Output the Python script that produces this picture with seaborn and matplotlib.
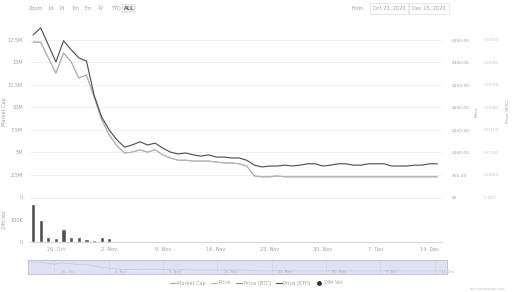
import numpy as np
import pandas as pd
import matplotlib
matplotlib.use("Agg")
import matplotlib.pyplot as plt
import seaborn as sns
from matplotlib.lines import Line2D

# ---------------- data ----------------
day_index = list(range(54))
price_usd = [345, 345, 310, 276, 321, 301, 265, 272, 223, 172, 138, 114, 98, 100, 105, 100,
             105, 94, 87, 82, 82, 80, 80, 80, 78, 76, 76, 74, 69, 47, 45, 45, 47, 45, 45, 45,
             45, 45, 45, 45, 45, 45, 45, 45, 45, 45, 45, 45, 45, 45, 45, 45, 45, 45]
market_cap_m = [p / 20.0 for p in price_usd]
price_btc = [0.0361, 0.0377, 0.0339, 0.0301, 0.0348, 0.0328, 0.0310, 0.0303, 0.0227, 0.0178,
             0.0149, 0.0127, 0.0111, 0.0116, 0.0123, 0.0116, 0.0120, 0.0109, 0.0100, 0.0096,
             0.0098, 0.0094, 0.0091, 0.0094, 0.0089, 0.0089, 0.0087, 0.0087, 0.0082, 0.0071,
             0.0067, 0.0069, 0.0069, 0.0071, 0.0069, 0.0071, 0.0074, 0.0074, 0.0069, 0.0071,
             0.0074, 0.0074, 0.0071, 0.0071, 0.0074, 0.0074, 0.0074, 0.0069, 0.0069, 0.0069,
             0.0071, 0.0071, 0.0074, 0.0074]
volume_k = [173, 100, 23, 20, 59, 22, 22, 12, 10, 22, 18] + [0] * 43

tick_days = [3, 10, 17, 24, 31, 38, 45, 52]
tick_labels = ["26. Oct", "2. Nov", "9. Nov", "16. Nov", "23. Nov", "30. Nov", "7. Dec", "14. Dec"]
mcap_ticks = [0, 2.5, 5, 7.5, 10, 12.5, 15, 17.5]
mcap_labels = ["0", "2.5M", "5M", "7.5M", "10M", "12.5M", "15M", "17.5M"]
price_ticks = [0, 50, 100, 150, 200, 250, 300, 350]
price_labels = ["$0", "$50.00", "$100.00", "$150.00", "$200.00", "$250.00", "$300.00", "$350.00"]
btc_ticks = [0, 0.005, 0.01, 0.015, 0.02, 0.025, 0.03, 0.035]
btc_labels = ["0 BTC", "0.0050", "0.0100", "0.0150", "0.0200", "0.0250", "0.0300", "0.0350"]
legend_names = ["Market Cap", "Price", "Price (BTC)", "Price (ETH)", "24h Vol"]

df = pd.DataFrame({"day": day_index, "mcap": market_cap_m, "price": price_usd,
                   "btc": price_btc, "vol": volume_k})

# ---------------- style ----------------
sns.set_theme(style="white")
plt.rcParams["font.family"] = ["DejaVu Sans"]
W, H = 512, 292
fig = plt.figure(figsize=(W / 100, H / 100), dpi=100)
fig.patch.set_facecolor("white")

def px(x0, y0, x1, y1):
    return [x0 / W, 1 - y1 / H, (x1 - x0) / W, (y1 - y0) / H]

LBL = "#a0a0a0"
FS = 3.6
FSR = 3.2
DARK = "#4a4a4a"
LIGHT = "#a8a8a8"
xlim = (-0.4, 53.6)
AX_X0, AX_X1 = 30, 442

# main axes
ax = fig.add_axes(px(AX_X0, 26, AX_X1, 197))
ymax_p = 381
ax.set_ylim(0, ymax_p / 20)
ax.set_xlim(*xlim)
for v in mcap_ticks[1:]:
    ax.axhline(v, color="#efefef", lw=0.6, zorder=0)
ax.axhline(0, color="#cfcfcf", lw=0.8, zorder=1)
sns.lineplot(data=df, x="day", y="mcap", ax=ax, color=LIGHT, lw=0.8)
ax.set_yticks(mcap_ticks)
ax.set_yticklabels(mcap_labels)
ax.tick_params(axis="y", labelsize=FS, colors=LBL, length=0, pad=5)
ax.set_ylabel("Market Cap", fontsize=FS, color=LBL)
ax.yaxis.set_label_coords(-(AX_X0 - 7) / (AX_X1 - AX_X0), 0.5)
for s in ax.spines.values():
    s.set_visible(False)

ax2 = ax.twinx()
ax2.set_ylim(0, ymax_p)
sns.lineplot(data=df, x="day", y="price", ax=ax2, color="#b4b4b4", lw=0.7)
ax2.set_yticks(price_ticks)
ax2.set_yticklabels(price_labels)
ax2.tick_params(axis="y", labelsize=FSR, colors=LBL, length=0, pad=7)
ax2.set_ylabel("Price", fontsize=FSR, color=LBL)
ax2.yaxis.set_label_coords(1 + (475 - AX_X1) / (AX_X1 - AX_X0), 0.5)
ax2.set_xlim(*xlim)
for s in ax2.spines.values():
    s.set_visible(False)

ax3 = ax.twinx()
ax3.set_ylim(0, ymax_p / 10000)
sns.lineplot(data=df, x="day", y="btc", ax=ax3, color=DARK, lw=0.8)
ax3.spines["right"].set_position(("outward", 29))
ax3.set_yticks(btc_ticks)
ax3.set_yticklabels(btc_labels)
ax3.tick_params(axis="y", labelsize=FSR, colors="#c4c4c4", length=0, pad=1)
ax3.set_ylabel("Price (BTC)", fontsize=FSR, color=LBL)
ax3.yaxis.set_label_coords(1 + (506 - AX_X1) / (AX_X1 - AX_X0), 0.5)
ax3.set_xlim(*xlim)
for s in ax3.spines.values():
    s.set_visible(False)
for a in (ax, ax2, ax3):
    a.set_xlabel("")
    a.set_xticks([])

# volume axes
axv = fig.add_axes(px(AX_X0, 198, AX_X1, 242))
axv.bar(df["day"], df["vol"], width=0.55, color="#505050")
axv.set_xlim(*xlim)
axv.set_ylim(0, 200)
axv.axhline(200, color="#e6e6e6", lw=0.6)
axv.set_yticks([0, 100])
axv.set_yticklabels(["0", "100K"])
axv.set_ylabel("24h Vol", fontsize=FS, color=LBL)
axv.yaxis.set_label_coords(-(AX_X0 - 7) / (AX_X1 - AX_X0), 0.5)
axv.set_xticks(tick_days)
axv.set_xticklabels(tick_labels)
axv.tick_params(axis="x", labelsize=FS, colors=LBL, length=2, color="#cccccc", pad=1.5)
axv.tick_params(axis="y", labelsize=FS, colors=LBL, length=0, pad=5)
for s in axv.spines.values():
    s.set_visible(False)
axv.spines["bottom"].set_visible(True)
axv.spines["bottom"].set_color("#cccccc")
axv.spines["bottom"].set_linewidth(0.6)

# navigator
axn = fig.add_axes(px(28, 260, 447, 274))
axn.set_facecolor("#dfe2f3")
sns.lineplot(data=df, x="day", y="price", ax=axn, color="#c3c7dd", lw=0.5)
axn.set_xlim(*xlim)
axn.set_ylim(-60, 420)
for d, l in zip(tick_days, tick_labels):
    axn.axvline(d, color="#cfd2e6", lw=0.4)
    axn.text(d + 0.8, -45, l, fontsize=2.6, color="#b0b3c8", va="bottom")
axn.set_xticks([])
axn.set_yticks([])
axn.set_xlabel("")
axn.set_ylabel("")
for s in axn.spines.values():
    s.set_color("#b8bcd4")
    s.set_linewidth(0.6)

# top toolbar
fig.text(29 / W, 1 - 8 / H, "Zoom", fontsize=FS, color=LBL, va="center")
for xpos, lab in zip([47, 59, 71, 84, 98, 111], ["1d", "7d", "1m", "3m", "1y", "YTD"]):
    fig.text(xpos / W, 1 - 8 / H, lab, fontsize=FS, color=LBL, va="center")
fig.text(124 / W, 1 - 8 / H, "ALL", fontsize=FS, color="#666666", va="center", weight="bold",
         bbox=dict(boxstyle="square,pad=0.4", fc="#e8e8e8", ec="none"))
fig.text(352 / W, 1 - 8 / H, "From", fontsize=FS, color=LBL, va="center")
fig.text(389 / W, 1 - 8 / H, "Oct 23, 2020", fontsize=FS, color=LBL, va="center", ha="center",
         bbox=dict(boxstyle="square,pad=0.6", fc="white", ec="#dddddd", lw=0.5))
fig.text(408 / W, 1 - 8 / H, "To", fontsize=FS, color=LBL, va="center")
fig.text(429 / W, 1 - 8 / H, "Dec 15, 2020", fontsize=FS, color=LBL, va="center", ha="center",
         bbox=dict(boxstyle="square,pad=0.6", fc="white", ec="#dddddd", lw=0.5))

# legend
handles = [Line2D([], [], color=LIGHT, lw=0.8), Line2D([], [], color="#b4b4b4", lw=0.8),
           Line2D([], [], color="#8a8a8a", lw=0.8), Line2D([], [], color=DARK, lw=0.8),
           Line2D([], [], color="#333333", marker="o", ls="none", markersize=2.5)]
fig.legend(handles, legend_names, loc="center", bbox_to_anchor=(256 / W, 1 - 283 / H),
           ncol=5, fontsize=FS, frameon=False, handlelength=1.2, handletextpad=0.3,
           columnspacing=1.0, labelcolor=LBL)
fig.text(505 / W, 1 - 289 / H, "coinmarketcap.com", fontsize=2.5, color="#c0c0c0",
         ha="right", va="center")

fig.savefig("out.png", dpi=100, facecolor="white")
